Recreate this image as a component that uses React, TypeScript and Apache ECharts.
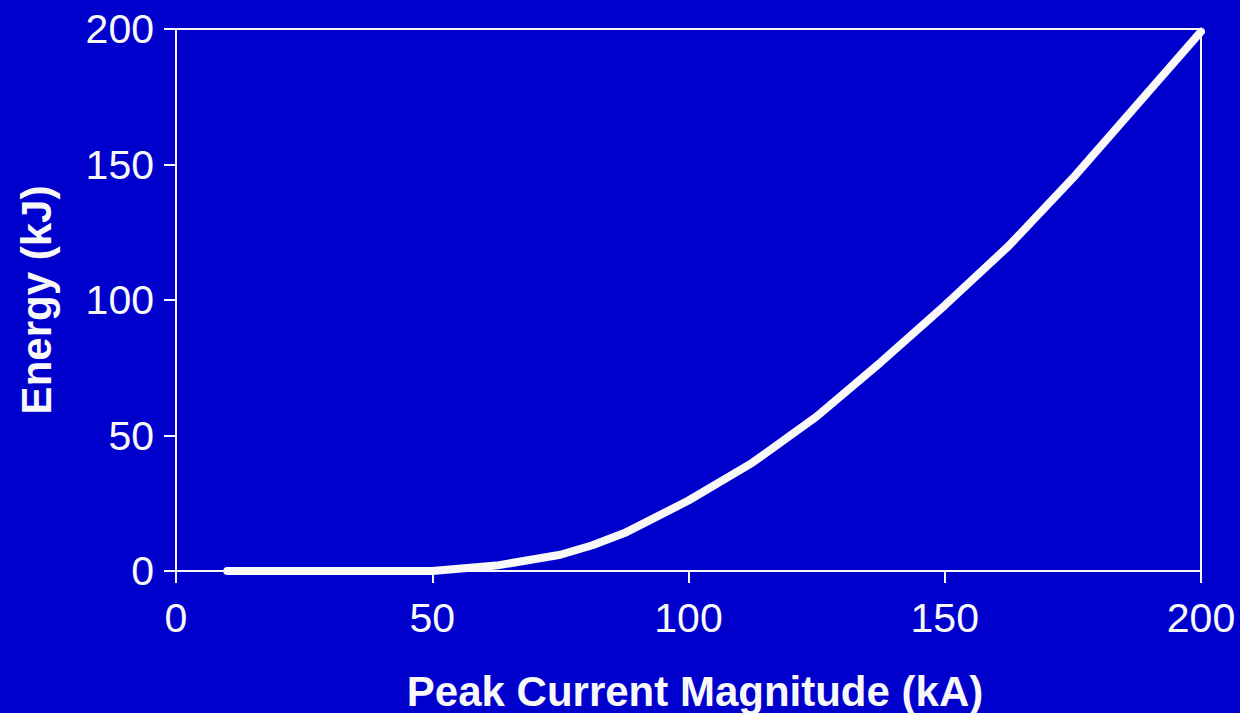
import React, { useEffect, useRef } from "react";
import * as echarts from "echarts";

const peakCurrent = [10, 50, 62.5, 75, 81.25, 87.5, 100, 112.5, 125, 137.5, 150, 162.5, 175, 187.5, 200];
const energy = [0, 0, 2, 6, 9.5, 14, 26, 40, 57, 77, 98, 120, 145, 172, 199];
const xTicks = [0, 50, 100, 150, 200];
const yTicks = [0, 50, 100, 150, 200];

const BG = "#0000CC";
const FG = "#F8F8F8";
const FONT = "'Liberation Sans', Arial, sans-serif";

export default function App() {
  const ref = useRef<HTMLDivElement>(null);
  useEffect(() => {
    document.body.style.margin = "0";
    const chart = echarts.init(ref.current!, null, { renderer: "svg" });
    chart.setOption({
      animation: false,
      backgroundColor: BG,
      grid: {
        left: 176,
        right: 39,
        top: 29,
        bottom: 142,
        outerBoundsMode: "none",
        containLabel: false,
        show: true,
        borderColor: FG,
        borderWidth: 2,
        backgroundColor: "transparent",
      },
      xAxis: {
        type: "value",
        min: xTicks[0],
        max: xTicks[xTicks.length - 1],
        interval: 50,
        name: "Peak Current Magnitude (kA)",
        nameLocation: "middle",
        nameGap: 99,
        nameTextStyle: { color: FG, fontFamily: FONT, fontSize: 42, fontWeight: "bold", padding: [0, 0, 0, 13] },
        axisLine: { show: true, lineStyle: { color: FG, width: 2 } },
        axisTick: { show: true, inside: false, length: 12, lineStyle: { color: FG, width: 2 } },
        axisLabel: { color: FG, fontFamily: FONT, fontSize: 41, margin: 26 },
        splitLine: { show: false },
      },
      yAxis: {
        type: "value",
        min: yTicks[0],
        max: yTicks[yTicks.length - 1],
        interval: 50,
        name: "Energy (kJ)",
        nameLocation: "middle",
        nameGap: 119,
        nameTextStyle: { color: FG, fontFamily: FONT, fontSize: 42, fontWeight: "bold" },
        axisLine: { show: true, lineStyle: { color: FG, width: 2 } },
        axisTick: { show: true, inside: false, length: 12, lineStyle: { color: FG, width: 2 } },
        axisLabel: { color: FG, fontFamily: FONT, fontSize: 41, margin: 22 },
        splitLine: { show: false },
      },
      series: [
        {
          type: "line",
          data: peakCurrent.map((x, i) => [x, energy[i]]),
          showSymbol: false,
          symbol: "none",
          lineStyle: { color: FG, width: 8, cap: "round", join: "round" },
        },
      ],
    });
    return () => chart.dispose();
  }, []);
  return <div ref={ref} style={{ position: "fixed", left: 0, top: 0, width: 1240, height: 713 }} />;
}
